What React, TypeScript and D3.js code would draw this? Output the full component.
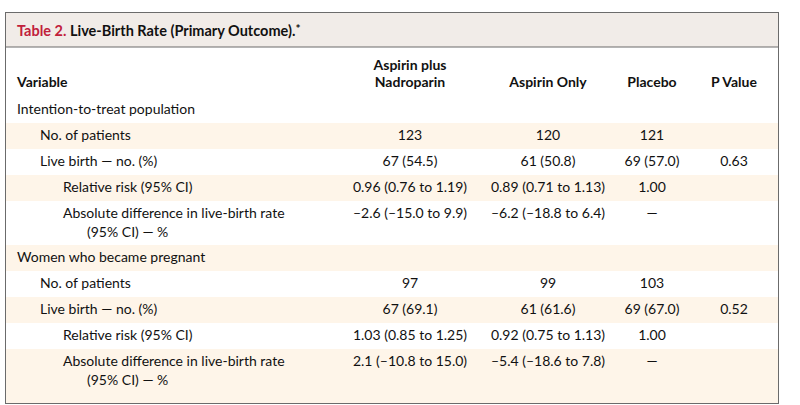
import React from "react";
import * as d3 from "d3";

const titleLabel = "Table 2.";
const titleText = " Live-Birth Rate (Primary Outcome).";
const columnHeaders = [["Aspirin plus", "Nadroparin"], ["Aspirin Only"], ["Placebo"], ["P Value"]];
const rowLabels = [
  ["Intention-to-treat population"],
  ["No. of patients"],
  ["Live birth — no. (%)"],
  ["Relative risk (95% CI)"],
  ["Absolute difference in live-birth rate", "(95% CI) — %"],
  ["Women who became pregnant"],
  ["No. of patients"],
  ["Live birth — no. (%)"],
  ["Relative risk (95% CI)"],
  ["Absolute difference in live-birth rate", "(95% CI) — %"],
];
const rowLevels = [0, 1, 1, 2, 2, 0, 1, 1, 2, 2];
const aspirinNadroparin = ["", "123", "67 (54.5)", "0.96 (0.76 to 1.19)", "–2.6 (–15.0 to 9.9)", "", "97", "67 (69.1)", "1.03 (0.85 to 1.25)", "2.1 (–10.8 to 15.0)"];
const aspirinOnly = ["", "120", "61 (50.8)", "0.89 (0.71 to 1.13)", "–6.2 (–18.8 to 6.4)", "", "99", "61 (61.6)", "0.92 (0.75 to 1.13)", "–5.4 (–18.6 to 7.8)"];
const placebo = ["", "121", "69 (57.0)", "1.00", "—", "", "103", "69 (67.0)", "1.00", "—"];
const pValue = ["", "", "0.63", "", "", "", "", "0.52", "", ""];

const W = 800, H = 405;
const FONT = "Lato, 'Open Sans', sans-serif";

export default function App() {
  const box = { x0: 5, y0: 12, x1: 778, y1: 403 };
  const titleH = 35;
  const bodyTop = 97;
  const singleH = 26, lineStep = 19;
  const heights = rowLabels.map((l) => singleH + (l.length - 1) * 18);
  const tops = [bodyTop, ...Array.from(d3.cumsum(heights)).map((c) => bodyTop + c)];
  const colData = [aspirinNadroparin, aspirinOnly, placebo, pValue];
  const xCol = d3.scaleOrdinal<number, number>().domain([0, 1, 2, 3]).range([410, 548, 652, 734]);
  const indent = d3.scaleLinear().domain([0, 2]).range([17, 63]);
  const textColor = "#111";

  return (
    <div style={{ position: "absolute", left: 0, top: 0 }}>
      <svg width={W} height={H} style={{ display: "block", fontFamily: FONT }}>
        <rect x={0} y={0} width={W} height={H} fill="#fff" />
        <rect x={box.x0} y={box.y0} width={box.x1 - box.x0} height={titleH} fill="#f1ece8" />
        {rowLabels.map((_, i) =>
          i % 2 === 1 ? (
            <rect
              key={"b" + i}
              x={box.x0}
              y={tops[i]}
              width={box.x1 - box.x0}
              height={(i === rowLabels.length - 1 ? box.y1 : tops[i + 1]) - tops[i]}
              fill="#fef5e9"
            />
          ) : null
        )}
        <line x1={box.x0} x2={box.x1} y1={box.y0 + titleH} y2={box.y0 + titleH} stroke="#6b6b6b" strokeWidth={1} />
        <rect x={box.x0 + 0.5} y={box.y0 + 0.5} width={box.x1 - box.x0} height={box.y1 - box.y0} fill="none" stroke="#6b6b6b" strokeWidth={1} />
        <text x={17} y={36} fontSize={14.5} fontWeight="bold" fill={textColor}>
          <tspan fill="#c1203b">{titleLabel}</tspan>
          <tspan>{titleText}</tspan>
          <tspan fontSize={12} dy={-3}>*</tspan>
        </text>
        <text x={17} y={87} fontSize={14} fontWeight="bold" fill={textColor}>Variable</text>
        {columnHeaders.map((lines, c) =>
          lines.map((ln, k) => (
            <text
              key={"h" + c + k}
              x={xCol(c)}
              y={87 - (lines.length - 1 - k) * 17}
              fontSize={14}
              fontWeight="bold"
              textAnchor="middle"
              fill={textColor}
            >
              {ln}
            </text>
          ))
        )}
        {rowLabels.map((lines, i) => (
          <g key={"r" + i}>
            {lines.map((ln, k) => (
              <text
                key={k}
                x={indent(rowLevels[i]) + (k > 0 ? 24 : 0)}
                y={tops[i] + 17 + k * lineStep}
                fontSize={14}
                fill={textColor}
              >
                {ln}
              </text>
            ))}
            {colData.map((col, c) =>
              col[i] ? (
                <text
                  key={"v" + c}
                  x={xCol(c)}
                  y={tops[i] + 17}
                  fontSize={14}
                  textAnchor="middle"
                  fill={textColor}
                >
                  {col[i]}
                </text>
              ) : null
            )}
          </g>
        ))}
      </svg>
    </div>
  );
}
